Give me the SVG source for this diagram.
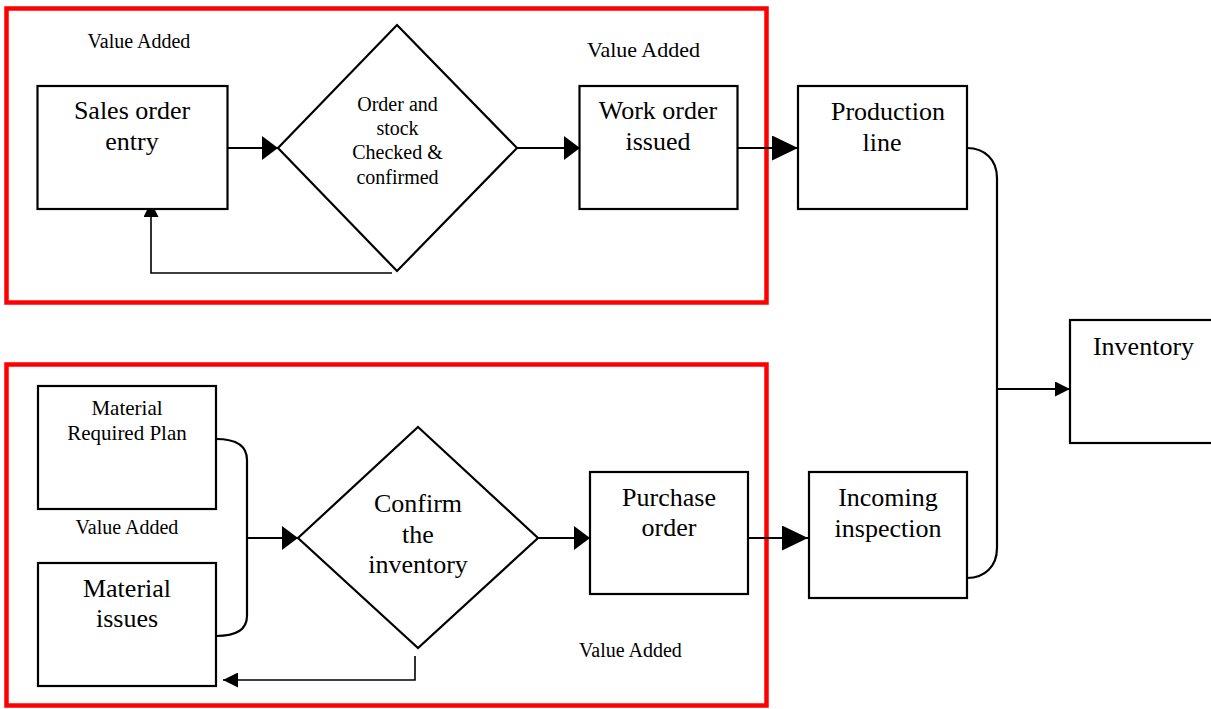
<svg xmlns="http://www.w3.org/2000/svg" width="1211" height="709" viewBox="0 0 1211 709">
<defs>
<marker id="aM" markerUnits="userSpaceOnUse" markerWidth="16" markerHeight="24" refX="16" refY="12" orient="auto"><path d="M0,0 L16,12 L0,24 z" fill="#000"/></marker>
<marker id="aL" markerUnits="userSpaceOnUse" markerWidth="26" markerHeight="25" refX="26" refY="12.5" orient="auto"><path d="M0,0 L26,12.5 L0,25 z" fill="#000"/></marker>
<marker id="aS" markerUnits="userSpaceOnUse" markerWidth="15" markerHeight="15" refX="15" refY="7.5" orient="auto"><path d="M0,0 L15,7.5 L0,15 z" fill="#000"/></marker>
</defs>
<style>
.box{fill:#fff;stroke:#000;stroke-width:2.2}
.frame{fill:none;stroke:#ff0000;stroke-width:4.5}
.ln{fill:none;stroke:#000;stroke-width:2.2}
.fb{fill:none;stroke:#000;stroke-width:1.6}
text{font-family:"Liberation Serif","Times New Roman",serif;fill:#000;text-anchor:middle}
.t26{font-size:26px}
.t21{font-size:21px}
.t20{font-size:20px}
</style>
<rect width="1211" height="709" fill="#fff"/>
<g id="frames">
<rect class="frame" x="6.5" y="8.5" width="760" height="294"/>
<rect class="frame" x="6.5" y="364.5" width="760" height="341"/>
</g>
<g id="connectors">
<path class="ln" d="M227,148 L278,148" marker-end="url(#aM)"/>
<path class="ln" d="M517,148 L580,148" marker-end="url(#aM)"/>
<path class="ln" d="M737,148 L798,148" marker-end="url(#aL)"/>
<path class="fb" d="M392,273 L151,273 L151,202" marker-end="url(#aS)"/>
<path class="ln" d="M967,148 C985,148 997,160 997,178 L997,548 C997,566 985,578 967,578"/>
<path class="ln" d="M997,389 L1070,389" marker-end="url(#aS)"/>
<path class="ln" d="M216,439 C238,439 247,447 247,460 L247,616 C247,629 238,636 216,636"/>
<path class="ln" d="M247,538 L298,538" marker-end="url(#aM)"/>
<path class="ln" d="M538,538 L590,538" marker-end="url(#aM)"/>
<path class="ln" d="M748,538 L808,538" marker-end="url(#aL)"/>
<path class="fb" d="M415,656 L415,680 L223,680" marker-end="url(#aS)"/>
</g>
<g id="sales-order-entry">
<rect class="box" x="37.5" y="86" width="190" height="123"/>
<text class="t26" x="132" y="119">Sales order</text>
<text class="t26" x="132" y="150">entry</text>
</g>
<g id="order-stock-check">
<polygon class="box" points="397,25 517,148 397,271 278,148"/>
<text class="t20" x="397.5" y="111">Order and</text>
<text class="t20" x="397.5" y="135">stock</text>
<text class="t20" x="397.5" y="159">Checked &amp;</text>
<text class="t20" x="397.5" y="184">confirmed</text>
</g>
<g id="work-order-issued">
<rect class="box" x="579.5" y="86" width="158" height="123"/>
<text class="t26" x="658" y="119">Work order</text>
<text class="t26" x="658" y="150">issued</text>
</g>
<g id="production-line">
<rect class="box" x="798" y="86" width="169" height="123"/>
<text class="t26" x="888" y="120">Production</text>
<text class="t26" x="882" y="151">line</text>
</g>
<g id="inventory">
<rect class="box" x="1070" y="320" width="150" height="123"/>
<text class="t26" x="1143.5" y="355">Inventory</text>
</g>
<g id="material-required-plan">
<rect class="box" x="38" y="386" width="178" height="123"/>
<text class="t21" x="127" y="415">Material</text>
<text class="t21" x="127" y="440">Required Plan</text>
</g>
<g id="material-issues">
<rect class="box" x="38" y="563" width="178" height="123"/>
<text class="t26" x="127" y="597">Material</text>
<text class="t26" x="127" y="627">issues</text>
</g>
<g id="confirm-inventory">
<polygon class="box" points="418,427 538,538 418,648 298,538"/>
<text class="t26" x="418" y="512">Confirm</text>
<text class="t26" x="418" y="543">the</text>
<text class="t26" x="418" y="573">inventory</text>
</g>
<g id="purchase-order">
<rect class="box" x="590" y="472" width="158" height="122"/>
<text class="t26" x="669" y="506">Purchase</text>
<text class="t26" x="669" y="536">order</text>
</g>
<g id="incoming-inspection">
<rect class="box" x="809" y="472" width="158" height="126"/>
<text class="t26" x="888" y="506">Incoming</text>
<text class="t26" x="888" y="537">inspection</text>
</g>
<g id="labels">
<text class="t20" x="139" y="48">Value Added</text>
<text x="643.5" y="57" style="font-size:22px">Value Added</text>
<text class="t20" x="127" y="534">Value Added</text>
<text class="t20" x="630.5" y="657">Value Added</text>
</g>
</svg>
